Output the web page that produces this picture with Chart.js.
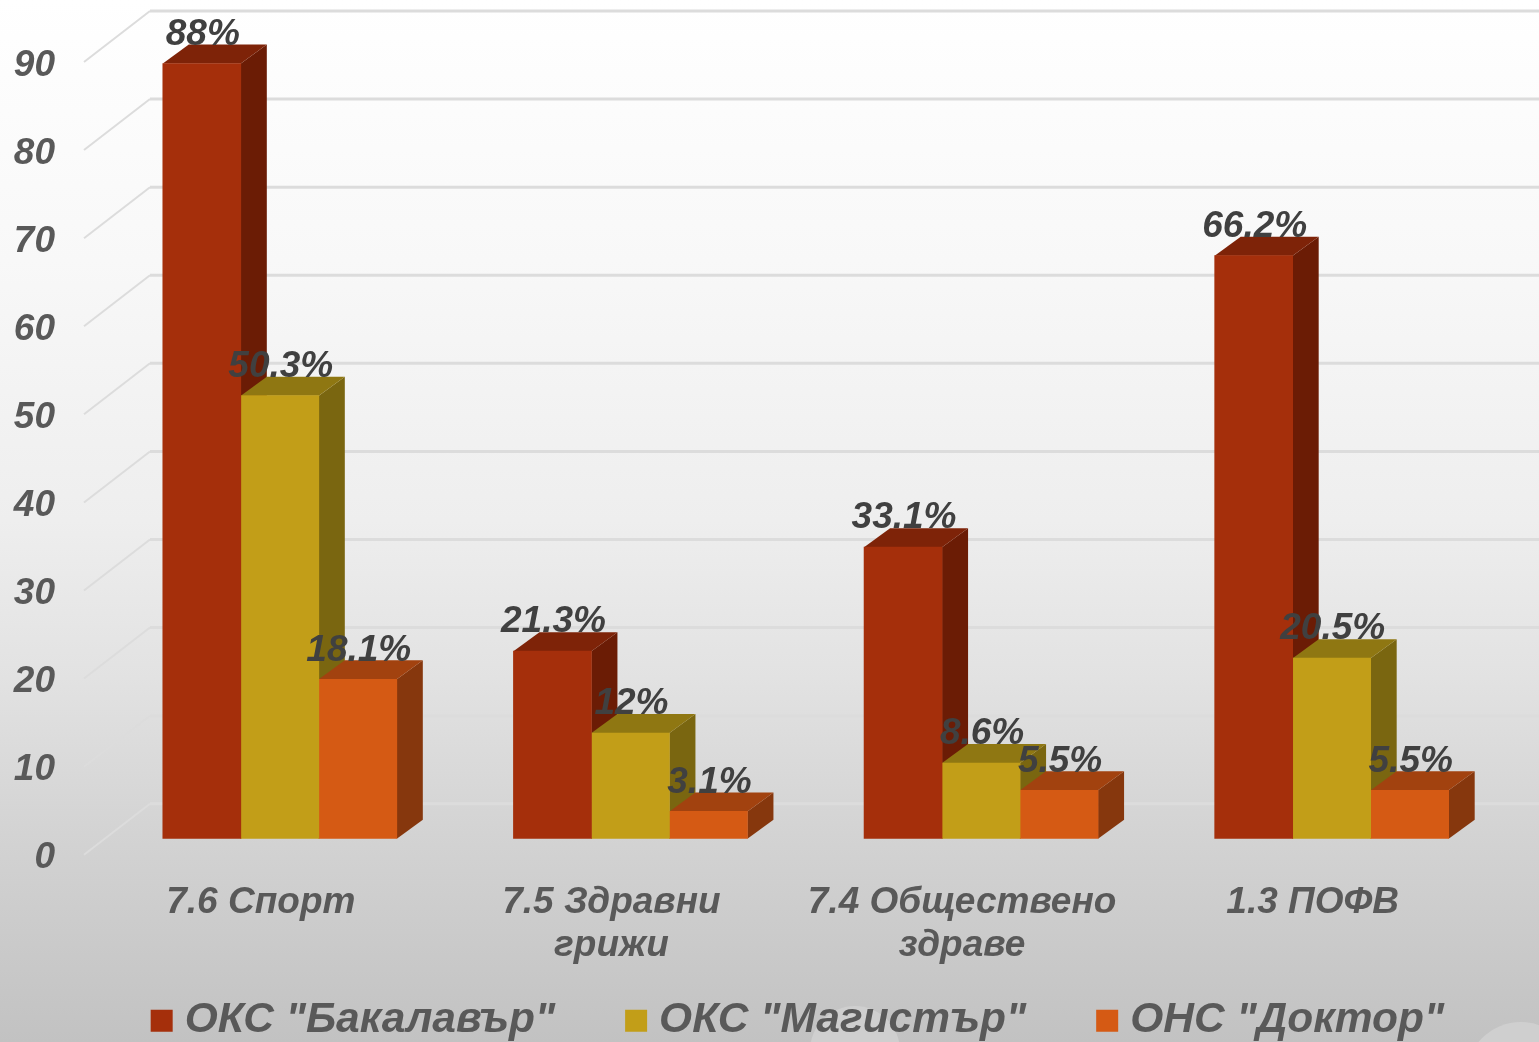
<!DOCTYPE html>
<html><head><meta charset="utf-8">
<style>
html,body{margin:0;padding:0;width:1539px;height:1042px;overflow:hidden;
background:linear-gradient(180deg,#ffffff 0%,#f8f8f8 25%,#eeeeee 50%,#e2e2e2 65%,#d3d3d3 80%,#c2c2c2 100%);}
#w{position:absolute;left:0;top:0;width:1539px;height:1042px}
canvas{display:block;position:relative}
.gl{position:absolute;border-radius:50%;background:radial-gradient(circle at 50% 40%,#cfcfcf 0 62%,#f4f4f4 68%,#b4b4b4 78%,rgba(190,190,190,0) 100%)}
</style>
<script src="https://cdn.jsdelivr.net/npm/chart.js@4"></script>
</head><body><div class="gl" style="left:810px;top:1006px;width:90px;height:90px"></div>
<div class="gl" style="left:1466px;top:1022px;width:110px;height:110px"></div>
<div id="w"><canvas id="c" width="1539" height="1042"></canvas></div>
<script>
const categories=[['7.6 Спорт'],['7.5 Здравни','грижи'],['7.4 Обществено','здраве'],['1.3 ПОФВ']];
const seriesNames=['ОКС "Бакалавър"','ОКС "Магистър"','ОНС "Доктор"'];
const bachelor=[88,21.3,33.1,66.2];
const master=[50.3,12,8.6,20.5];
const doctor=[18.1,3.1,5.5,5.5];
const valueTexts=[['88%','21.3%','33.1%','66.2%'],['50.3%','12%','8.6%','20.5%'],['18.1%','3.1%','5.5%','5.5%']];
const frontColors=['#A52F0B','#C29E18','#D55A14'];
const sideColors=['#6B1C05','#7A6610','#86370D'];
const topColors=['#7E2308','#8F7712','#A2420F'];
const textColor='#595959';
const labelColor='#404040';
const fontFamily='"Liberation Sans",Arial,sans-serif';
const depthX=26,depthY=-19;

const scene={id:'scene',
 afterLayout(chart){
  chart.scales.x.bottom=chart.height;
  const dx=48.5,dy=10;
  chart.legend.left+=dx;chart.legend.right+=dx;
  chart.legend.top+=dy;chart.legend.bottom+=dy;
 },
 beforeDatasetsDraw(chart){
  const c=chart.ctx,y=chart.scales.y;
  c.save();c.strokeStyle='#dcdcdc';
  y.ticks.forEach(t=>{
   const p=y.getPixelForValue(t.value);
   c.lineWidth=3;c.beginPath();c.moveTo(150,p-35);c.lineTo(1539,p-35);c.stroke();
   c.lineWidth=2;c.beginPath();c.moveTo(84,p+16);c.lineTo(150,p-35);c.stroke();
  });
  chart.data.datasets.forEach((d,i)=>{
   chart.getDatasetMeta(i).data.forEach(b=>{
    const l=b.x-b.width/2,r=b.x+b.width/2,t=b.y,bt=b.base;
    c.fillStyle=sideColors[i];c.beginPath();
    c.moveTo(r,t);c.lineTo(r+depthX,t+depthY);c.lineTo(r+depthX,bt+depthY);c.lineTo(r,bt);c.closePath();c.fill();
    c.fillStyle=topColors[i];c.beginPath();
    c.moveTo(l,t);c.lineTo(l+depthX,t+depthY);c.lineTo(r+depthX,t+depthY);c.lineTo(r,t);c.closePath();c.fill();
   });
  });
  c.restore();
 },
 afterDatasetsDraw(chart){
  const c=chart.ctx;
  c.save();c.font='italic bold 37px '+fontFamily;c.fillStyle=labelColor;
  c.textAlign='center';c.textBaseline='middle';
  chart.data.datasets.forEach((d,i)=>{
   chart.getDatasetMeta(i).data.forEach((b,j)=>{
    c.fillText(valueTexts[i][j],b.x+1,b.y-29);
   });
  });
  c.restore();
 }};

new Chart(document.getElementById('c'),{
 type:'bar',
 data:{labels:categories,datasets:[bachelor,master,doctor].map((v,i)=>({
  label:seriesNames[i],data:v,backgroundColor:frontColors[i],barThickness:78,borderWidth:0}))},
 plugins:[scene],
 options:{
  responsive:false,animation:false,
  layout:{padding:{right:32,bottom:0,left:0,top:46}},
  plugins:{
   tooltip:{enabled:false},
   legend:{display:true,position:'bottom',
    labels:{color:textColor,font:{family:fontFamily,size:42.5,style:'italic',weight:'bold',lineHeight:1},
     boxWidth:3.5,boxHeight:3.5,padding:79.25,
     generateLabels(ch){return ch.data.datasets.map((d,i)=>({
      text:d.label,fillStyle:frontColors[i],strokeStyle:frontColors[i],lineWidth:18.5,datasetIndex:i,fontColor:textColor}));}
    }}
  },
  scales:{
   x:{grid:{display:false,drawTicks:false},border:{display:false},
    afterFit(s){s.height=71.5;s.paddingLeft=0;s.paddingRight=0;},
    ticks:{color:textColor,font:{family:fontFamily,size:37,style:'italic',weight:'bold',lineHeight:'43px'},
     padding:43,labelOffset:-19,maxRotation:0,autoSkip:false}},
   y:{min:0,max:90,grid:{display:false,drawTicks:false},border:{display:false},
    afterFit(s){s.width=104.5;s.paddingTop=0;s.paddingBottom=0;},
    ticks:{stepSize:10,color:textColor,font:{family:fontFamily,size:37,style:'italic',weight:'bold'},
     padding:49.5,labelOffset:19.5,autoSkip:false}}
  }
 }
});
</script>
</body></html>
